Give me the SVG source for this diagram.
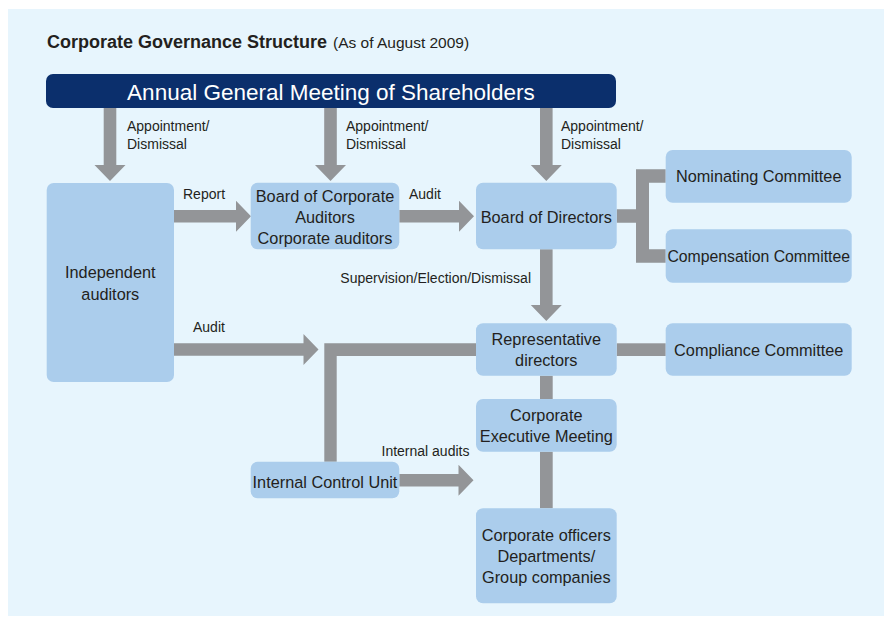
<svg xmlns="http://www.w3.org/2000/svg" width="890" height="619" viewBox="0 0 890 619">
<style>
.bg{fill:#E7F5FD}
.box{fill:#ABCDEC}
.agm{fill:#0B2F6C}
.con{fill:#939598}
text{font-family:"Liberation Sans",Arial,sans-serif;fill:#231F20}
.n{font-size:16.3px;text-anchor:middle}
.l{font-size:14px}
.t{font-size:18px;font-weight:bold}
.s{font-size:15.5px}
</style>
<rect class="bg" x="8" y="9" width="876" height="607"/>
<text class="t" x="47" y="47.5">Corporate Governance Structure</text>
<text class="s" x="333" y="47.5">(As of August 2009)</text>

<g id="connectors">
  <path class="con" d="M103.7 108H116.3V165H125.5L110 181L94.5 165H103.7Z"/>
  <path class="con" d="M324.2 108H336.8V165H346L330.5 181L315 165H324.2Z"/>
  <path class="con" d="M540 108H552.6V165H561.8L546.3 181L530.8 165H540Z"/>
  <path class="con" d="M540 249.3H552.6V305H561.8L546.3 321L530.8 305H540Z"/>
  <path class="con" d="M174 209.9H236V200.7L251 216.2L236 231.7V222.5H174Z"/>
  <path class="con" d="M399.3 209.9H459V200.7L474 216.2L459 231.7V222.5H399.3Z"/>
  <path class="con" d="M174 343.2H303.5V334L318.5 349.5L303.5 365V355.8H174Z"/>
  <path class="con" d="M399.3 474H458.5V464.8L473.5 480.3L458.5 495.8V486.6H399.3Z"/>
  <path class="con" d="M616.7 209.3H636V169.3H665.7V182.7H649V249.3H665.7V262.7H636V222.7H616.7Z"/>
  <rect class="con" x="616.7" y="343.3" width="49" height="12.7"/>
  <path class="con" d="M476 343.3H324.3V461.7H336.7V356H476Z"/>
  <rect class="con" x="540" y="375.7" width="12.7" height="23.3"/>
  <rect class="con" x="540" y="451.7" width="12.7" height="56.6"/>
  <text class="l" x="127" y="131">Appointment/</text>
  <text class="l" x="127" y="149">Dismissal</text>
  <text class="l" x="346" y="131">Appointment/</text>
  <text class="l" x="346" y="149">Dismissal</text>
  <text class="l" x="561" y="131">Appointment/</text>
  <text class="l" x="561" y="149">Dismissal</text>
  <text class="l" x="183" y="199">Report</text>
  <text class="l" x="409" y="199">Audit</text>
  <text class="l" x="193" y="331.5">Audit</text>
  <text class="l" x="531" y="282.5" text-anchor="end">Supervision/Election/Dismissal</text>
  <text class="l" x="381.5" y="456">Internal audits</text>
</g>

<g id="agm">
  <rect class="agm" x="46" y="74" width="570" height="34" rx="7"/>
  <text x="331" y="99.5" style="font-size:22.5px;fill:#fff;text-anchor:middle">Annual General Meeting of Shareholders</text>
</g>
<g id="independent-auditors">
  <rect class="box" x="46.7" y="183" width="127.3" height="199" rx="7"/>
  <text class="n" x="110.3" y="278">Independent</text>
  <text class="n" x="110.3" y="300">auditors</text>
</g>
<g id="board-corporate-auditors">
  <rect class="box" x="250.7" y="182.7" width="148.6" height="66.6" rx="7"/>
  <text class="n" x="325" y="201.7">Board of Corporate</text>
  <text class="n" x="325" y="222.7">Auditors</text>
  <text class="n" x="325" y="244.3">Corporate auditors</text>
</g>
<g id="board-directors">
  <rect class="box" x="476" y="182.7" width="140.7" height="66.6" rx="7"/>
  <text class="n" x="546.3" y="222.7">Board of Directors</text>
</g>
<g id="nominating-committee">
  <rect class="box" x="665.7" y="150" width="186" height="52.7" rx="7"/>
  <text class="n" x="758.7" y="181.7">Nominating Committee</text>
</g>
<g id="compensation-committee">
  <rect class="box" x="665.7" y="229.3" width="186" height="53.4" rx="7"/>
  <text class="n" x="758.7" y="261.7" style="font-size:15.8px">Compensation Committee</text>
</g>
<g id="representative-directors">
  <rect class="box" x="476" y="323.3" width="140.7" height="52.4" rx="7"/>
  <text class="n" x="546.3" y="345">Representative</text>
  <text class="n" x="546.3" y="365.5">directors</text>
</g>
<g id="compliance-committee">
  <rect class="box" x="665.7" y="323.3" width="186" height="52.4" rx="7"/>
  <text class="n" x="758.7" y="355.5">Compliance Committee</text>
</g>
<g id="corporate-executive-meeting">
  <rect class="box" x="476" y="399" width="140.7" height="52.7" rx="7"/>
  <text class="n" x="546.3" y="420.7">Corporate</text>
  <text class="n" x="546.3" y="441.7">Executive Meeting</text>
</g>
<g id="internal-control-unit">
  <rect class="box" x="250.7" y="461.7" width="148.6" height="36.6" rx="7"/>
  <text class="n" x="325" y="488.3">Internal Control Unit</text>
</g>
<g id="corporate-officers">
  <rect class="box" x="476" y="508.3" width="140.7" height="95" rx="7"/>
  <text class="n" x="546.3" y="540.7">Corporate officers</text>
  <text class="n" x="546.3" y="561.7">Departments/</text>
  <text class="n" x="546.3" y="583.3">Group companies</text>
</g>
</svg>
